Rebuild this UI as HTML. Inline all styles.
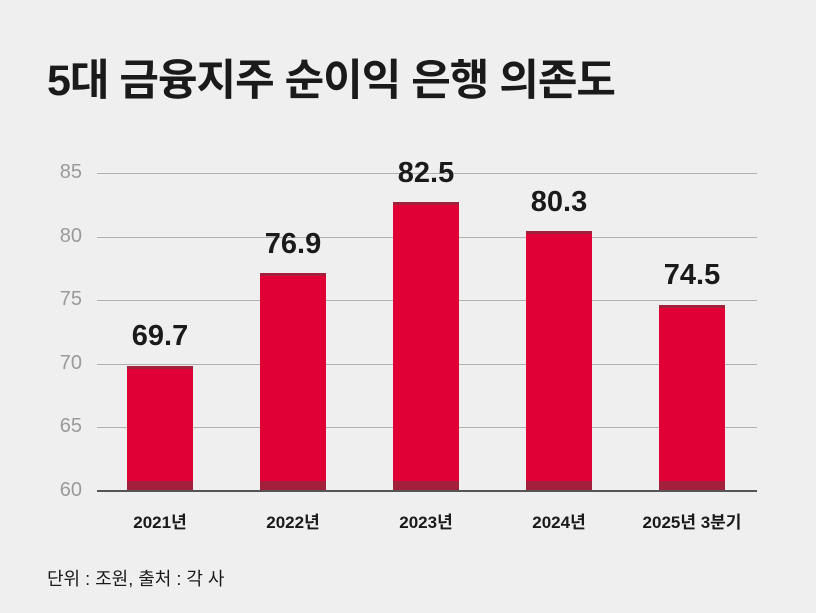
<!DOCTYPE html><html><head><meta charset="utf-8"><style>
body{margin:0;background:#f0eff0;width:816px;height:613px;overflow:hidden;position:relative;font-family:"Liberation Sans","Noto Sans CJK KR",sans-serif}
.t{position:absolute;left:47px;top:46px;font-size:43px;font-weight:bold;color:#1a1a1a;letter-spacing:-1px}
.yl{position:absolute;left:50px;width:32px;text-align:right;font-size:20px;color:#9a9a9a}
.g{position:absolute;left:97px;width:660px;height:1px;background:#b0b0b0}
.b{position:absolute;width:66px;background:#e00036;border-top:3px solid #a3203d;box-sizing:border-box}
.b:after{content:"";position:absolute;left:0;right:0;bottom:0;height:10px;background:#a3203d}
.v{position:absolute;width:120px;text-align:center;font-size:29px;font-weight:bold;color:#1a1a1a}
.x{position:absolute;top:508px;width:160px;text-align:center;font-size:17px;font-weight:bold;color:#1a1a1a}
</style></head><body>
<div class="t">5대 금융지주 순이익 은행 의존도</div>
<div class="yl" style="top:161px">85</div><div class="g" style="top:173px"></div>
<div class="yl" style="top:225px">80</div><div class="g" style="top:237px"></div>
<div class="yl" style="top:288px">75</div><div class="g" style="top:300px"></div>
<div class="yl" style="top:352px">70</div><div class="g" style="top:364px"></div>
<div class="yl" style="top:415px">65</div><div class="g" style="top:427px"></div>
<div class="yl" style="top:479px">60</div>
<div class="b" style="left:127px;top:366px;height:125px"></div>
<div class="b" style="left:260px;top:273px;height:218px"></div>
<div class="b" style="left:393px;top:202px;height:289px"></div>
<div class="b" style="left:526px;top:231px;height:260px"></div>
<div class="b" style="left:659px;top:305px;height:186px"></div>
<div style="position:absolute;left:97px;top:490px;width:660px;height:2px;background:#555"></div>
<div class="v" style="left:100px;top:320px">69.7</div>
<div class="v" style="left:233px;top:228px">76.9</div>
<div class="v" style="left:366px;top:157px">82.5</div>
<div class="v" style="left:499px;top:186px">80.3</div>
<div class="v" style="left:632px;top:259px">74.5</div>
<div class="x" style="left:80px">2021년</div>
<div class="x" style="left:213px">2022년</div>
<div class="x" style="left:346px">2023년</div>
<div class="x" style="left:479px">2024년</div>
<div class="x" style="left:612px">2025년 3분기</div>
<div style="position:absolute;left:47px;top:565px;font-size:18px;color:#1a1a1a">단위 : 조원, 출처 : 각 사</div>
</body></html>
